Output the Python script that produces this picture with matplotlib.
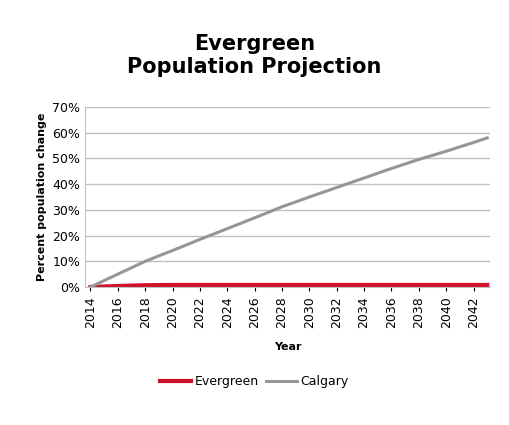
import matplotlib.pyplot as plt
import matplotlib.ticker as mtick

years = [2014, 2016, 2018, 2020, 2022, 2024, 2026, 2028, 2030, 2032, 2034, 2036, 2038, 2040, 2042, 2043]
calgary = [0, 5, 10, 14.2, 18.5, 22.7, 26.9, 31.2, 35, 38.7, 42.4, 46.1, 49.6, 52.8, 56.2, 58]
evergreen = [0, 0.4, 0.7, 0.8, 0.8, 0.8, 0.8, 0.8, 0.8, 0.8, 0.8, 0.8, 0.8, 0.8, 0.8, 0.8]
tick_years = list(range(2014, 2043, 2))

plt.rcParams['font.family'] = ['DejaVu Sans']
fig = plt.figure(figsize=(5.09, 4.25), dpi=100)
ax = fig.add_axes([85/509, 1 - 287/425, 405/509, 180/425])

ax.plot(years, evergreen, color='#d0112b', lw=3, label='Evergreen')
ax.plot(years, calgary, color='#969696', lw=2.2, label='Calgary')

ax.set_xlim(2013.6, 2043.2)
ax.set_ylim(0, 70)
ax.set_yticks(range(0, 71, 10))
ax.yaxis.set_major_formatter(mtick.FuncFormatter(lambda v, p: f'{int(v)}%'))
ax.set_xticks(tick_years)
ax.set_xticklabels([str(y) for y in tick_years], rotation=90, fontsize=9)
ax.tick_params(axis='y', labelsize=9, length=0)
ax.tick_params(axis='x', length=3)
ax.grid(axis='y', color='#bfbfbf', lw=1)
ax.set_axisbelow(True)
for s in ['top', 'right']:
    ax.spines[s].set_visible(False)
ax.spines['left'].set_color('#bfbfbf')
ax.spines['bottom'].set_color('#bfbfbf')

ax.set_xlabel('Year', fontsize=8, fontweight='bold', labelpad=10)
ax.set_ylabel('Percent population change', fontsize=8, fontweight='bold')
fig.suptitle('Evergreen\nPopulation Projection', fontsize=15, fontweight='bold', y=0.92)
fig.legend(loc='lower center', bbox_to_anchor=(0.5, 0.06), ncol=2, frameon=False,
           fontsize=9, handlelength=2.5, columnspacing=0.5, handletextpad=0.3)

fig.savefig('out.png', dpi=100)
